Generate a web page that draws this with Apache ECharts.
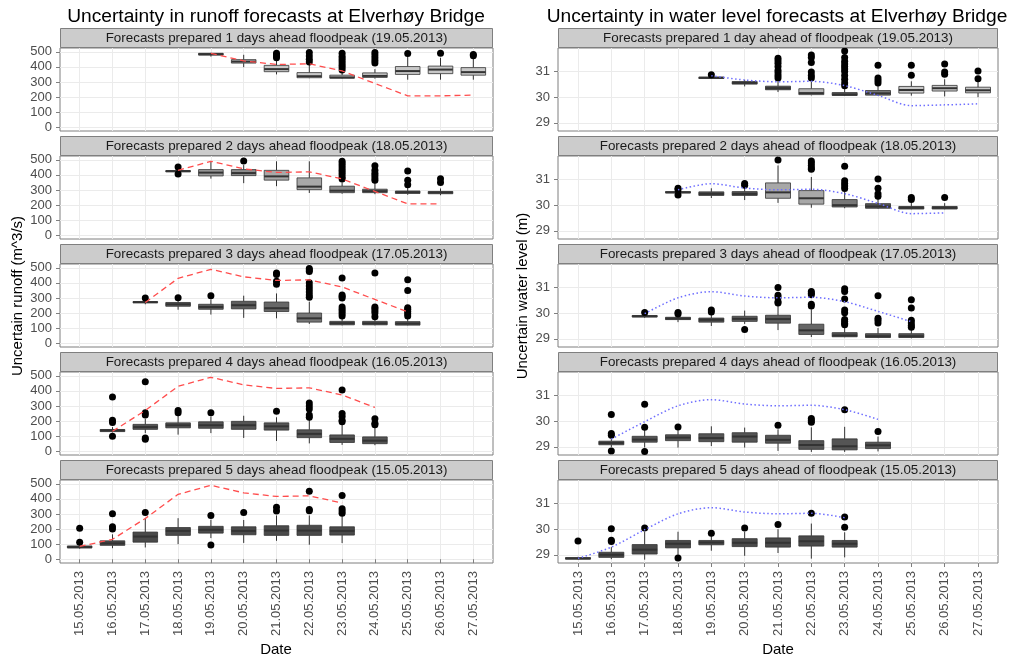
<!DOCTYPE html>
<html><head><meta charset="utf-8">
<script src="https://cdn.jsdelivr.net/npm/echarts@6/dist/echarts.min.js"></script>
<style>html,body{margin:0;padding:0;background:#fff}#c{width:1009px;height:658px}</style>
</head><body><div id="c"></div>
<script>
// ---------------- DATA ----------------
const dates = ['15.05.2013','16.05.2013','17.05.2013','18.05.2013','19.05.2013','20.05.2013','21.05.2013','22.05.2013','23.05.2013','24.05.2013','25.05.2013','26.05.2013','27.05.2013'];
const runoffTicks = [0,100,200,300,400,500];
const levelTicks = [29,30,31];
const leadDays = [1,2,3,4,5];
const forecastDates = ['19.05.2013','18.05.2013','17.05.2013','16.05.2013','15.05.2013'];

const runoffObserved = [85,132,270,430,490,440,416,420,373,290,208,208,213];
const levelObserved = [28.86,29.3,29.98,30.6,30.84,30.67,30.6,30.62,30.45,30.07,29.67,29.7,29.74];

// boxes: [min, Q1, median, Q3, max], one per day starting at the forecast date
const runoffBox1 = [[468,478,484,490,493],[398,425,435,448,480],[350,368,385,410,440],[325,328,338,362,415],[322,325,330,345,365],[322,330,340,360,385],[315,350,372,402,470],[315,355,382,405,460],[315,345,365,395,455]];
const runoffOut1 = [[],[],[490,480,470,460],[495,472,450,432],[490,470,455,440,425,410,395,380],[495,478,460,442,425],[488],[490],[482,473]];
const runoffBox2 = [[415,420,425,428,435],[375,393,415,435,485],[345,395,412,435,465],[325,365,390,430,490],[280,302,322,380,490],[275,282,295,325,350],[272,282,292,305,350],[268,277,285,293,315],[265,275,283,290,310]];
const runoffOut2 = [[452,405],[],[492],[],[],[490,475,460,445,430,415,400,385,372],[460,430,410,395,380,365],[425,365,335],[375,350]];
const runoffBox3 = [[258,268,272,276,285],[222,245,258,270,290],[190,225,240,258,290],[168,228,252,278,315],[165,210,232,273,330],[128,140,165,200,275],[118,122,133,145,175],[118,122,132,145,160],[118,120,130,143,165]];
const runoffOut3 = [[300],[302],[315],[],[465,455,410,390],[495,485,475,400,380,360,340,320,305],[433,320,310,300,240,225,210,195,180],[465,240,230,215,200,175],[420,350,235,225,210,195,180]];
const runoffBox4 = [[125,130,138,144,160],[120,145,160,178,215],[110,155,172,188,235],[120,152,172,195,230],[88,145,172,198,235],[68,140,165,188,225],[52,90,115,142,210],[42,58,82,108,180],[40,50,70,95,160]];
const runoffOut4 = [[360,205,190,100],[460,255,240,88,80],[270,255],[255],[],[265],[320,300,280,240,225],[405,250,230,205,195],[215,185,175]];
const runoffBox5 = [[70,75,80,88,95],[73,92,105,122,165],[78,113,150,180,273],[100,158,188,210,272],[140,173,195,218,262],[108,162,188,215,260],[122,158,190,222,290],[96,158,190,225,290],[107,160,188,215,285]];
const runoffOut5 = [[205,112],[302,215,200],[310],[],[290,95],[310],[345,320],[450,330,322],[422,335,320,305]];

const levelBox1 = [[30.72,30.73,30.76,30.78,30.82],[30.42,30.51,30.56,30.61,30.68],[30.2,30.29,30.35,30.43,30.6],[30.07,30.1,30.16,30.33,30.6],[30.05,30.07,30.1,30.18,30.38],[30.05,30.08,30.15,30.26,30.45],[30.06,30.16,30.28,30.42,30.62],[30.03,30.24,30.35,30.46,30.7],[30.0,30.17,30.27,30.39,30.6]];
const levelOut1 = [[30.88],[],[31.52,31.42,31.32,31.2,31.05,30.95,30.85,30.75],[31.65,31.55,31.35,30.98,30.85,30.75],[31.8,31.55,31.4,31.3,31.2,31.1,31.0,30.85,30.7,30.55,30.45],[31.25,30.75,30.65,30.55],[31.25,30.86],[31.3,30.98,30.9],[31.02,30.72]];
const levelBox2 = [[30.45,30.48,30.5,30.53,30.56],[30.28,30.38,30.44,30.52,30.66],[30.2,30.38,30.44,30.53,30.7],[30.09,30.27,30.5,30.87,31.55],[29.9,30.04,30.27,30.57,31.1],[29.88,29.93,30.0,30.22,30.52],[29.86,29.88,29.95,30.06,30.25],[29.84,29.85,29.9,29.95,30.1],[29.84,29.85,29.9,29.95,30.08]];
const levelOut2 = [[30.66,30.6,30.4],[],[30.85,30.78],[31.76],[31.72,31.65,31.55,31.45,31.4],[31.52,30.95,30.85,30.75,30.65],[31.02,30.66,30.45,30.35],[30.3,30.22],[30.3]];
const levelBox3 = [[29.82,29.85,29.88,29.91,29.95],[29.65,29.75,29.79,29.84,29.92],[29.5,29.65,29.74,29.81,29.95],[29.58,29.68,29.78,29.88,30.1],[29.34,29.61,29.77,29.92,30.3],[29.07,29.17,29.33,29.57,30.15],[29.06,29.08,29.13,29.24,29.45],[29.03,29.05,29.1,29.2,29.42],[29.02,29.05,29.1,29.2,29.35]];
const levelOut3 = [[30.03],[30.03,29.97],[30.12,30.05],[29.36],[31.0,30.7,30.6,30.45,30.4],[30.85,30.78,30.72,30.35,30.28],[30.95,30.85,30.55,30.12,30.02,29.75,29.68,29.6,29.55],[30.68,29.8,29.72,29.62],[30.52,30.2,29.72,29.62,29.52,29.45]];
const levelBox4 = [[28.98,29.08,29.15,29.22,29.35],[28.97,29.18,29.28,29.41,29.65],[28.97,29.24,29.36,29.47,29.65],[29.03,29.2,29.34,29.51,29.8],[28.97,29.18,29.4,29.55,29.75],[28.84,29.14,29.27,29.45,29.68],[28.8,28.9,29.07,29.24,29.76],[28.8,28.88,29.02,29.31,29.78],[28.82,28.93,29.06,29.18,29.4]];
const levelOut4 = [[30.26,29.52,29.45,28.84],[30.66,29.76,28.82],[29.77],[],[],[29.84],[30.1,30.03,29.96],[30.45],[29.6]];
const levelBox5 = [[28.82,28.83,28.86,28.89,28.92],[28.83,28.9,29.0,29.1,29.3],[28.81,29.03,29.2,29.4,29.9],[29.0,29.27,29.43,29.56,29.9],[29.16,29.39,29.48,29.56,29.76],[28.96,29.32,29.47,29.63,29.9],[29.07,29.3,29.47,29.66,30.0],[28.85,29.34,29.53,29.74,30.22],[28.9,29.3,29.43,29.56,29.88]];
const levelOut5 = [[29.54],[30.02,29.57,29.52],[30.05],[28.88],[29.84],[30.05],[30.18],[30.62],[30.48,30.08]];

// ---------------- STYLE ----------------
const runoffShades = [
  ['#555555','#c8c8c8','#c8c8c8','#c8c8c8','#c8c8c8','#c8c8c8','#c8c8c8','#c8c8c8','#c8c8c8'],
  ['#5a5a5a','#9a9a9a','#8c8c8c','#a8a8a8','#a8a8a8','#8c8c8c','#808080','#747474','#747474'],
  ['#5a5a5a','#5e5e5e','#5e5e5e','#5e5e5e','#676767','#777777','#5a5a5a','#5a5a5a','#5a5a5a'],
  ['#555555','#555555','#555555','#555555','#555555','#555555','#555555','#555555','#555555'],
  ['#4a4a4a','#4a4a4a','#4a4a4a','#4a4a4a','#4a4a4a','#4a4a4a','#4a4a4a','#4a4a4a','#4a4a4a']
];
const levelShades = [
  ['#555555','#555555','#555555','#b8b8b8','#555555','#777777','#c8c8c8','#c8c8c8','#c8c8c8'],
  ['#555555','#555555','#555555','#a8a8a8','#a8a8a8','#777777','#555555','#555555','#555555'],
  ['#555555','#555555','#555555','#5e5e5e','#5e5e5e','#666666','#555555','#555555','#555555'],
  ['#555555','#555555','#555555','#555555','#555555','#555555','#555555','#555555','#555555'],
  ['#4a4a4a','#4a4a4a','#4a4a4a','#4a4a4a','#4a4a4a','#4a4a4a','#4a4a4a','#4a4a4a','#4a4a4a']
];

const runoffBoxes = [runoffBox1, runoffBox2, runoffBox3, runoffBox4, runoffBox5];
const runoffOuts = [runoffOut1, runoffOut2, runoffOut3, runoffOut4, runoffOut5];
const levelBoxes = [levelBox1, levelBox2, levelBox3, levelBox4, levelBox5];
const levelOuts = [levelOut1, levelOut2, levelOut3, levelOut4, levelOut5];

const FONT = '"Liberation Sans", Arial, sans-serif';
const cols = [{left: 60, width: 433}, {left: 558, width: 440}];
const rowTop = k => 48 + 108 * k;
const plotH = 83, stripH = 20;
const xVals = dates.map((d, i) => i + 1);

const grids = [], xAxes = [], yAxes = [], series = [], graphics = [];

function makeRender(shades) {
  return function (params, api) {
    const x = api.value(0);
    const pMin = api.coord([x, api.value(1)]);
    const pQ1 = api.coord([x, api.value(2)]);
    const pMd = api.coord([x, api.value(3)]);
    const pQ3 = api.coord([x, api.value(4)]);
    const pMax = api.coord([x, api.value(5)]);
    const w = api.size([0.75, 0])[0];
    const cx = pMd[0];
    const stroke = '#333333';
    return {
      type: 'group',
      children: [
        {type: 'line', shape: {x1: cx, y1: pQ3[1], x2: cx, y2: pMax[1]}, style: {stroke: stroke, lineWidth: 1}},
        {type: 'line', shape: {x1: cx, y1: pQ1[1], x2: cx, y2: pMin[1]}, style: {stroke: stroke, lineWidth: 1}},
        {type: 'rect', shape: {x: cx - w / 2, y: pQ3[1], width: w, height: Math.max(pQ1[1] - pQ3[1], 0.5)}, style: {fill: shades[params.dataIndex], stroke: stroke, lineWidth: 0.8}},
        {type: 'line', shape: {x1: cx - w / 2, y1: pMd[1], x2: cx + w / 2, y2: pMd[1]}, style: {stroke: stroke, lineWidth: 2}}
      ]
    };
  };
}

function addPanel(side, k) {
  const gi = grids.length;
  const col = cols[side];
  const isRunoff = side === 0;
  const top = rowTop(k);
  const start = 4 - k; // index of forecast date
  grids.push({left: col.left, top: top, width: col.width, height: plotH, show: true,
    backgroundColor: '#ffffff', borderColor: '#7f7f7f', borderWidth: 1, containLabel: false});
  const last = k === 4;
  xAxes.push({type: 'value', gridIndex: gi, min: 0.4, max: 13.6,
    axisLine: {show: false},
    axisTick: {show: last, customValues: xVals, length: 4, lineStyle: {color: '#7f7f7f'}},
    axisLabel: {show: last, customValues: xVals, rotate: 90, margin: 8, fontSize: 13, color: '#4d4d4d', fontFamily: FONT,
      formatter: v => dates[Math.round(v) - 1] || ''},
    splitLine: {show: true, lineStyle: {color: '#ebebeb', width: 1}}
  });
  const ticks = isRunoff ? runoffTicks : levelTicks;
  yAxes.push({type: 'value', gridIndex: gi,
    min: isRunoff ? -25 : 28.68, max: isRunoff ? 525 : 31.92,
    axisLine: {show: false},
    axisTick: {show: true, customValues: ticks, length: 4, lineStyle: {color: '#7f7f7f'}},
    axisLabel: {show: true, customValues: ticks, margin: 8, fontSize: 13, color: '#4d4d4d', fontFamily: FONT},
    splitLine: {show: true, lineStyle: {color: '#ebebeb', width: 1}}
  });
  const boxes = (isRunoff ? runoffBoxes : levelBoxes)[k];
  const outs = (isRunoff ? runoffOuts : levelOuts)[k];
  const shades = (isRunoff ? runoffShades : levelShades)[k];
  const obs = isRunoff ? runoffObserved : levelObserved;
  series.push({type: 'custom', xAxisIndex: gi, yAxisIndex: gi, z: 2, silent: true,
    renderItem: makeRender(shades),
    encode: {x: 0, y: [1, 2, 3, 4, 5]},
    data: boxes.map((b, i) => [start + i + 1].concat(b))
  });
  const outData = [];
  outs.forEach((arr, i) => arr.forEach(v => outData.push([start + i + 1, v])));
  series.push({type: 'scatter', xAxisIndex: gi, yAxisIndex: gi, z: 3, silent: true,
    symbol: 'circle', symbolSize: 7, itemStyle: {color: '#000000', opacity: 1}, data: outData});
  const lineData = [];
  for (let i = 0; i < 9; i++) lineData.push([start + i + 1, obs[start + i]]);
  series.push({type: 'line', xAxisIndex: gi, yAxisIndex: gi, z: 4, silent: true, showSymbol: false,
    smooth: isRunoff ? false : 0.3,
    lineStyle: isRunoff ? {color: '#ff4d4d', width: 1.3, type: [6, 4]} : {color: '#6e6eff', width: 1.5, type: [1.5, 2.5]},
    data: lineData});
  // strip
  const stripText = isRunoff
    ? 'Forecasts prepared ' + leadDays[k] + ' days ahead floodpeak (' + forecastDates[k] + ')'
    : 'Forecasts prepared ' + leadDays[k] + (leadDays[k] === 1 ? ' day' : ' days') + ' ahead of floodpeak (' + forecastDates[k] + ')';
  graphics.push({type: 'rect', shape: {x: col.left + 0.5, y: top - stripH + 0.5, width: col.width - 1, height: stripH - 1},
    style: {fill: '#cccccc', stroke: '#7f7f7f', lineWidth: 1}, z: 10});
  graphics.push({type: 'text', x: col.left + col.width / 2, y: top - stripH / 2 + 0.5, z: 11,
    style: {text: stripText, textAlign: 'center', textVerticalAlign: 'middle', align: 'center', verticalAlign: 'middle',
      font: '13.4px ' + FONT, fill: '#1a1a1a'}});
}

for (let side = 0; side < 2; side++) for (let k = 0; k < 5; k++) addPanel(side, k);

// titles and axis titles
graphics.push({type: 'text', x: 276, y: 17, style: {text: 'Uncertainty in runoff forecasts at Elverhøy Bridge', textAlign: 'center', textVerticalAlign: 'middle', align: 'center', verticalAlign: 'middle', font: '19.2px ' + FONT, fill: '#000'}});
graphics.push({type: 'text', x: 777, y: 17, style: {text: 'Uncertainty in water level forecasts at Elverhøy Bridge', textAlign: 'center', textVerticalAlign: 'middle', align: 'center', verticalAlign: 'middle', font: '19.2px ' + FONT, fill: '#000'}});
graphics.push({type: 'text', x: 276, y: 650, style: {text: 'Date', textAlign: 'center', textVerticalAlign: 'middle', align: 'center', verticalAlign: 'middle', font: '15px ' + FONT, fill: '#000'}});
graphics.push({type: 'text', x: 778, y: 650, style: {text: 'Date', textAlign: 'center', textVerticalAlign: 'middle', align: 'center', verticalAlign: 'middle', font: '15px ' + FONT, fill: '#000'}});
graphics.push({type: 'text', x: 18, y: 296, rotation: Math.PI / 2, style: {text: 'Uncertain runoff (m^3/s)', textAlign: 'center', textVerticalAlign: 'middle', align: 'center', verticalAlign: 'middle', font: '15px ' + FONT, fill: '#000'}});
graphics.push({type: 'text', x: 523, y: 296, rotation: Math.PI / 2, style: {text: 'Uncertain water level (m)', textAlign: 'center', textVerticalAlign: 'middle', align: 'center', verticalAlign: 'middle', font: '15px ' + FONT, fill: '#000'}});

const chart = echarts.init(document.getElementById('c'));
chart.setOption({
  animation: false,
  backgroundColor: '#ffffff',
  grid: grids, xAxis: xAxes, yAxis: yAxes, series: series,
  graphic: {elements: graphics}
});
</script></body></html>
